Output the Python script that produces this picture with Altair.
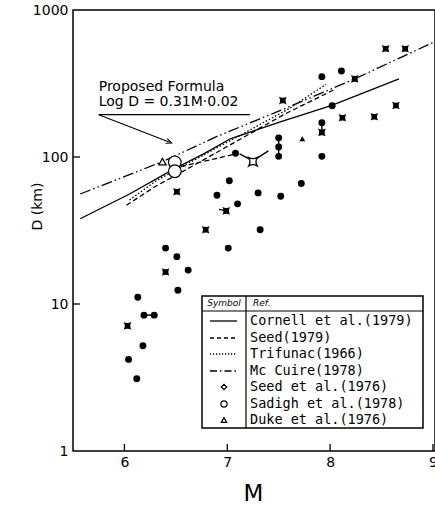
import altair as alt
import pandas as pd

# ---------------- data ----------------
# filled circles
circ_m = [7.92, 8.11, 8.02, 7.92, 7.92, 7.08, 7.50, 7.50, 7.50, 7.02, 6.90, 7.30, 7.52,
          7.72, 7.10, 7.32, 6.40, 7.01, 6.51, 6.62, 6.52, 6.13, 6.19, 6.29, 6.18, 6.04, 6.12]
circ_d = [352, 385, 223, 171, 101, 106, 135, 117, 101, 69, 55, 57, 54,
          66, 48, 32, 24, 24, 21, 17, 12.4, 11.1, 8.4, 8.4, 5.2, 4.2, 3.1]
# filled "hourglass" symbols
hour_m = [8.54, 8.73, 8.24, 7.54, 8.64, 8.12, 8.43, 7.92, 6.51, 6.99, 6.79, 6.40, 6.03]
hour_d = [545, 545, 340, 242, 224, 185, 188, 147, 58, 43, 32, 16.5, 7.1]
# filled triangle
tri_m = [7.73]
tri_d = [133]
# open symbols
sadigh_m = [6.49, 6.49]
sadigh_d = [92, 80]
duke_m = [6.37]
duke_d = [93]
openhour_m = [7.25]
openhour_d = [93]

# relation curves
cornell_m = [5.57, 6.05, 6.47, 6.77, 7.03, 7.50, 8.01, 8.67]
cornell_d = [38, 56, 82, 105, 133, 172, 224, 340]
seed_m = [6.02, 6.30, 6.60, 7.00, 7.56, 8.06]
seed_d = [47, 63, 82, 118, 196, 292]
trifunac_m = [6.05, 6.31, 6.70, 7.20, 7.60, 7.96]
trifunac_d = [51, 69, 97, 150, 213, 312]
mcguire_m = [5.57, 6.37, 6.90, 7.50, 8.24, 8.70, 9.02]
mcguire_d = [56, 93, 138, 205, 340, 480, 610]
# extra dashed segment
dash2_m = [6.55, 7.06]
dash2_d = [86, 104]

# connectors between data symbols
conn_seg = ["a", "a", "b", "b", "c", "c", "d", "d", "d", "e", "e"]
conn_m = [7.50, 7.50, 7.92, 7.92, 6.19, 6.29, 7.12, 7.25, 7.40, 6.92, 6.99]
conn_d = [135, 101, 171, 147, 8.4, 8.4, 105, 94, 110, 44, 43]

# annotation
note_lines = ["Proposed  Formula", "Log D = 0.31M\u00b70.02"]
note_m = [5.75, 5.75]
note_d = [300, 238]
underline_m = [5.75, 7.22]
underline_d = [194, 194]
arrow_m = [5.75, 6.44]
arrow_d = [194, 126]

x_ticks = [6, 7, 8, 9]
y_ticks = [1, 10, 100, 1000]

legend_labels = ["Cornell et al.(1979)", "Seed(1979)", "Trifunac(1966)", "Mc Cuire(1978)",
                 "Seed et al.(1976)", "Sadigh et al.(1978)", "Duke et al.(1976)"]

# ---------------- chart ----------------
W, H = 362, 441
FONT = "DejaVu Sans"

xs = alt.Scale(domain=[5.5, 9.02], nice=False, zero=False)
ys = alt.Scale(type="log", domain=[1, 1000], nice=False)
xaxis = alt.Axis(values=x_ticks, format="d", title="M", domain=False, ticks=False, grid=False,
                 labelFont=FONT, labelFontSize=14, labelColor="black", labelPadding=4,
                 labelFlush=False, titleFont=FONT, titleFontSize=23, titleFontWeight="normal",
                 titleColor="black", titleX=180, titleY=49, titleBaseline="alphabetic")
yaxis = alt.Axis(values=y_ticks, format="d", title="D (km)", domain=False, ticks=False, grid=False,
                 labelFont=FONT, labelFontSize=14, labelColor="black", labelPadding=5,
                 labelFlush=False, titleFont=FONT, titleFontSize=14, titleFontWeight="normal",
                 titleColor="black", titleX=-36, titleY=196, titleAngle=-90,
                 titleBaseline="middle", titleAlign="center")


def X():
    return alt.X("m:Q", scale=xs, axis=xaxis)


def Y():
    return alt.Y("d:Q", scale=ys, axis=yaxis)


def df(m, d):
    return pd.DataFrame({"m": m, "d": d})


layers = []

# curves
curve_styles = [
    (cornell_m, cornell_d, None),
    (seed_m, seed_d, [5, 3]),
    (trifunac_m, trifunac_d, [1.5, 2]),
    (mcguire_m, mcguire_d, [11, 3, 1.5, 3, 1.5, 3]),
    (dash2_m, dash2_d, [5, 3]),
]
for m, d, dash in curve_styles:
    kw = dict(color="black", strokeWidth=1.3, clip=True)
    if dash:
        kw["strokeDash"] = dash
    layers.append(alt.Chart(df(m, d)).mark_line(**kw).encode(x=X(), y=Y()))

# connectors
conn = pd.DataFrame({"m": conn_m, "d": conn_d, "seg": conn_seg, "i": range(len(conn_m))})
layers.append(alt.Chart(conn).mark_line(color="black", strokeWidth=1.4).encode(
    x=X(), y=Y(), detail="seg:N", order="i:Q"))

# annotation text, underline, arrow
note = pd.DataFrame({"m": note_m, "d": note_d, "t": note_lines})
layers.append(alt.Chart(note).mark_text(align="left", baseline="middle", font=FONT,
                                        fontSize=14, color="black").encode(x=X(), y=Y(), text="t:N"))
layers.append(alt.Chart(df(underline_m, underline_d)).mark_line(color="black", strokeWidth=1.2)
              .encode(x=X(), y=Y()))
layers.append(alt.Chart(df(arrow_m, arrow_d)).mark_line(color="black", strokeWidth=1.1)
              .encode(x=X(), y=Y()))
layers.append(alt.Chart(df(arrow_m[1:], arrow_d[1:])).mark_point(
    shape="M-1,-0.7L0.6,0L-1,0.7", filled=False, color="black", strokeWidth=1.1, size=50,
    angle=21, opacity=1).encode(x=X(), y=Y()))

HOUR = "M-1,-1Q0,-0.45,1,-1Q0.45,0,1,1Q0,0.45,-1,1Q-0.45,0,-1,-1Z"

# symbols
layers.append(alt.Chart(df(circ_m, circ_d)).mark_point(
    shape="circle", filled=True, color="black", size=48, opacity=1).encode(x=X(), y=Y()))
layers.append(alt.Chart(df(hour_m, hour_d)).mark_point(
    shape=HOUR, filled=True, color="black", size=58, opacity=1).encode(x=X(), y=Y()))
layers.append(alt.Chart(df(tri_m, tri_d)).mark_point(
    shape="triangle-up", filled=True, color="black", size=35, opacity=1).encode(x=X(), y=Y()))
layers.append(alt.Chart(df(openhour_m, openhour_d)).mark_point(
    shape=HOUR, filled=True, fill="white", stroke="black", strokeWidth=1.3, size=70,
    opacity=1).encode(x=X(), y=Y()))
layers.append(alt.Chart(df(sadigh_m, sadigh_d)).mark_point(
    shape="circle", filled=True, fill="white", stroke="black", strokeWidth=1.2, size=160,
    opacity=1).encode(x=X(), y=Y()))
layers.append(alt.Chart(df(duke_m, duke_d)).mark_point(
    shape="triangle-up", filled=True, fill="white", stroke="black", strokeWidth=1.2, size=55,
    opacity=1).encode(x=X(), y=Y()))

# inward ticks
layers.append(alt.Chart(pd.DataFrame({"m": x_ticks})).mark_rule(color="black", strokeWidth=1.3)
              .encode(x=X(), y=alt.value(H), y2=alt.value(H - 7)))
layers.append(alt.Chart(pd.DataFrame({"d": y_ticks[1:3]})).mark_rule(color="black", strokeWidth=1.3)
              .encode(y=Y(), x=alt.value(0), x2=alt.value(7)))

# legend table (drawn in plot pixel space)
one = pd.DataFrame({"a": [1]})
LX1, LX2, LY1, LY2, LDIV, LHEAD = 129, 350, 286, 418, 173, 301
layers.append(alt.Chart(one).mark_rect(fill="white", stroke="black", strokeWidth=1.5).encode(
    x=alt.value(LX1), x2=alt.value(LX2), y=alt.value(LY1), y2=alt.value(LY2)))
layers.append(alt.Chart(one).mark_rule(color="black", strokeWidth=1.2).encode(
    x=alt.value(LDIV), y=alt.value(LY1), y2=alt.value(LY2)))
layers.append(alt.Chart(one).mark_rule(color="black", strokeWidth=1.2).encode(
    x=alt.value(LX1), x2=alt.value(LX2), y=alt.value(LHEAD)))
layers.append(alt.Chart(one).mark_text(font=FONT, fontSize=9, fontStyle="italic", color="black",
                                       align="center", baseline="middle").encode(
    x=alt.value(151), y=alt.value(293), text=alt.value("Symbol")))
layers.append(alt.Chart(one).mark_text(font=FONT, fontSize=9, fontStyle="italic", color="black",
                                       align="left", baseline="middle").encode(
    x=alt.value(180), y=alt.value(293), text=alt.value("Ref.")))

row_y = [311, 328, 344, 361, 377, 394, 410]
dashes = [None, [4, 3], [1.2, 1.8], [7, 3, 1.5, 3]]
for i, lab in enumerate(legend_labels):
    yy = row_y[i]
    layers.append(alt.Chart(one).mark_text(font="DejaVu Sans Mono", fontSize=13.5, color="black",
                                           align="left", baseline="middle").encode(
        x=alt.value(177), y=alt.value(yy), text=alt.value(lab)))
    if i < 4:
        kw = dict(color="black", strokeWidth=1.3)
        if dashes[i]:
            kw["strokeDash"] = dashes[i]
        layers.append(alt.Chart(one).mark_rule(**kw).encode(
            x=alt.value(137), x2=alt.value(164), y=alt.value(yy)))

leg_shapes = ["diamond", "circle", "triangle-up"]
leg_sizes = [30, 40, 30]
for j in range(3):
    layers.append(alt.Chart(one).mark_point(shape=leg_shapes[j], filled=False, color="black",
                                            strokeWidth=1.2, size=leg_sizes[j], opacity=1).encode(
        x=alt.value(151), y=alt.value(row_y[4 + j])))

chart = alt.layer(*layers).properties(
    width=W, height=H,
    autosize=alt.AutoSizeParams(type="none"),
    padding={"left": 73, "top": 10, "right": 0, "bottom": 53},
    background="white",
).configure_view(stroke="black", strokeWidth=1.5)

chart.save("out.html", embed_options={"renderer": "svg", "actions": False})
